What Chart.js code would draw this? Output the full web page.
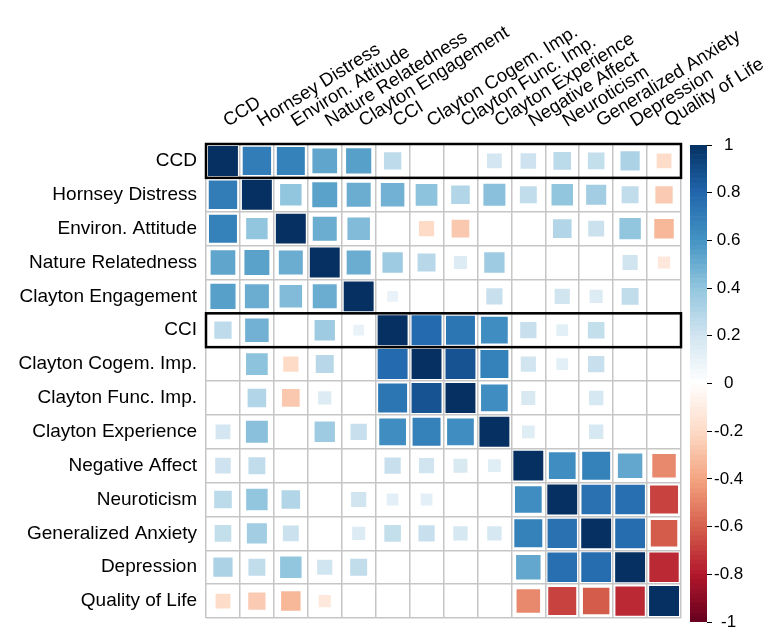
<!DOCTYPE html>
<html>
<head>
<meta charset="utf-8">
<script src="https://cdn.jsdelivr.net/npm/chart.js@4.4.1/dist/chart.umd.min.js"></script>
<style>
  html, body { margin: 0; padding: 0; background: #ffffff; }
  #wrap { position: relative; width: 766px; height: 627px; overflow: hidden; }
  #matrix { position: absolute; left: 0; top: 0; }
  #scale { position: absolute; left: 680px; top: 0; }
</style>
</head>
<body>
<div id="wrap">
  <canvas id="matrix" width="766" height="627"></canvas>
  <canvas id="scale" width="86" height="627"></canvas>
</div>
<script>
// Variables of the correlation matrix (row/column order)
const variables = [
  'CCD', 'Hornsey Distress', 'Environ. Attitude', 'Nature Relatedness',
  'Clayton Engagement', 'CCI', 'Clayton Cogem. Imp.', 'Clayton Func. Imp.',
  'Clayton Experience', 'Negative Affect', 'Neuroticism',
  'Generalized Anxiety', 'Depression', 'Quality of Life'
];

// Correlation rows (null = blank cell)
const ccd        = [1, .70, .68, .53, .55, .26, null, null, .19, .21, .27, .24, .32, -.19];
const hornsey    = [.70, 1, .40, .54, .50, .48, .41, .30, .42, .25, .40, .35, .25, -.26];
const environ    = [.68, .40, 1, .50, .44, null, -.20, -.27, null, null, .30, .22, .40, -.33];
const nature     = [.53, .54, .50, 1, .50, .36, .28, .15, .36, null, null, null, .20, -.13];
const engagement = [.55, .50, .44, .50, 1, .10, null, null, .23, null, .20, .15, .25, null];
const cci        = [.26, .48, null, .36, .10, 1, .78, .73, .62, .23, .12, .24, null, null];
const cogem      = [null, .41, -.20, .28, null, .78, 1, .87, .68, .20, .12, .23, null, null];
const funcImp    = [null, .30, -.27, .15, null, .73, .87, 1, .62, .17, null, .18, null, null];
const experience = [.19, .42, null, .36, .23, .62, .68, .62, 1, .14, null, .18, null, null];
const negAffect  = [.21, .25, null, null, null, .23, .20, .17, .14, 1, .62, .68, .52, -.48];
const neuro      = [.27, .40, .30, null, .20, .12, .12, null, null, .62, 1, .75, .76, -.68];
const anxiety    = [.24, .35, .22, null, .15, .24, .23, .18, .18, .68, .75, 1, .77, -.61];
const depression = [.32, .25, .40, .20, .25, null, null, null, null, .52, .76, .77, 1, -.75];
const qol        = [-.19, -.26, -.33, -.13, null, null, null, null, null, -.48, -.68, -.61, -.75, 1];

const rows = [ccd, hornsey, environ, nature, engagement, cci, cogem, funcImp,
              experience, negAffect, neuro, anxiety, depression, qol];

// Rows outlined with a black frame
const framedRows = ['CCD', 'CCI'];

// Colour bar ticks
const legendTicks = [1, 0.8, 0.6, 0.4, 0.2, 0, -0.2, -0.4, -0.6, -0.8, -1];

// Diverging red-blue palette (-1 .. 1)
const palette = ['#67001F', '#B2182B', '#D6604D', '#F4A582', '#FDDBC7', '#FFFFFF',
                 '#D1E5F0', '#92C5DE', '#4393C3', '#2166AC', '#053061'];

function hexToRgb(h) {
  const n = parseInt(h.slice(1), 16);
  return [(n >> 16) & 255, (n >> 8) & 255, n & 255];
}
function rdbu(v) {
  const t = Math.max(0, Math.min(10, (v + 1) / 2 * 10));
  const i = Math.min(9, Math.floor(t));
  const f = t - i;
  const a = hexToRgb(palette[i]), b = hexToRgb(palette[i + 1]);
  const c = a.map((x, k) => Math.round(x + (b[k] - x) * f));
  return `rgb(${c[0]},${c[1]},${c[2]})`;
}

const FONT = "'Liberation Sans', Arial, sans-serif";

// Scatter points: one per non-blank cell
const points = [];
rows.forEach((row, i) => row.forEach((v, j) => {
  if (v !== null) points.push({ x: variables[j], y: variables[i], v });
}));

// Square side grows with sqrt(|r|), leaving a small margin inside the cell
function squareRadius(ctx) {
  const area = ctx.chart.chartArea;
  if (!area || !ctx.raw) return 0;
  const cell = (area.right - area.left) / variables.length;
  const side = Math.min(cell - 4, Math.sqrt(Math.abs(ctx.raw.v)) * cell);
  return side / Math.SQRT2;
}

const frames = {
  id: 'frames',
  afterDatasetsDraw(chart) {
    const { ctx, chartArea, scales } = chart;
    const y = scales.y;
    const cell = Math.abs(y.getPixelForTick(1) - y.getPixelForTick(0));
    ctx.save();
    ctx.strokeStyle = '#000000';
    ctx.lineWidth = 2.5;
    framedRows.forEach(name => {
      const cy = y.getPixelForTick(variables.indexOf(name));
      ctx.strokeRect(chartArea.left, cy - cell / 2, chartArea.right - chartArea.left, cell);
    });
    ctx.restore();
  }
};

new Chart(document.getElementById('matrix'), {
  type: 'scatter',
  data: {
    datasets: [{
      data: points,
      pointStyle: 'rect',
      pointRadius: squareRadius,
      pointHoverRadius: squareRadius,
      pointBorderWidth: 0,
      pointBackgroundColor: ctx => rdbu(ctx.raw ? ctx.raw.v : 0),
      pointBorderColor: ctx => rdbu(ctx.raw ? ctx.raw.v : 0)
    }]
  },
  options: {
    responsive: false,
    animation: false,
    devicePixelRatio: 1,
    layout: { padding: { left: 0, top: 0, right: 85, bottom: 9 } },
    plugins: { legend: { display: false }, tooltip: { enabled: false } },
    scales: {
      x: {
        type: 'category',
        labels: variables,
        position: 'top',
        offset: true,
        grid: { offset: true, color: '#c6c6c6', lineWidth: 1.5, drawTicks: false },
        border: { display: false },
        ticks: {
          autoSkip: false, minRotation: 32, maxRotation: 32,
          padding: 12, labelOffset: 14,
          color: '#000000', font: { family: FONT, size: 18.5 }
        },
        afterFit(s) { s.height = 144; s.paddingLeft = 0; s.paddingRight = 0; }
      },
      y: {
        type: 'category',
        labels: variables,
        offset: true,
        grid: { offset: true, color: '#c6c6c6', lineWidth: 1.5, drawTicks: false },
        border: { display: false },
        ticks: {
          autoSkip: false, padding: 9,
          color: '#000000', font: { family: FONT, size: 19 }
        },
        afterFit(s) { s.width = 206; s.paddingTop = 0; s.paddingBottom = 0; }
      }
    }
  },
  plugins: [frames]
});

// Colour bar: thin stacked slices from -1 to 1
const sliceCount = 100;
const slices = [];
for (let k = 0; k < sliceCount; k++) {
  const lo = -1 + 2 * k / sliceCount;
  const hi = -1 + 2 * (k + 1) / sliceCount;
  slices.push({
    data: [[lo, hi]],
    backgroundColor: rdbu((lo + hi) / 2),
    borderWidth: 0,
    grouped: false,
    barPercentage: 1,
    categoryPercentage: 1
  });
}

new Chart(document.getElementById('scale'), {
  type: 'bar',
  data: { labels: [''], datasets: slices },
  options: {
    responsive: false,
    animation: false,
    devicePixelRatio: 1,
    layout: { padding: { left: 10, top: 145, right: 0, bottom: 5 } },
    plugins: { legend: { display: false }, tooltip: { enabled: false } },
    scales: {
      x: { display: false },
      y: {
        position: 'right',
        min: -1, max: 1,
        grid: { drawOnChartArea: false, drawTicks: true, tickLength: 5, color: '#000000', lineWidth: 1 },
        border: { display: false },
        afterBuildTicks(s) { s.ticks = legendTicks.map(v => ({ value: v })); },
        ticks: {
          padding: 2, crossAlign: 'center', color: '#000000',
          font: { family: FONT, size: 17 },
          callback: v => String(Math.round(v * 10) / 10)
        },
        afterFit(s) { s.width = 59; s.paddingTop = 0; s.paddingBottom = 0; }
      }
    }
  }
});
</script>
</body>
</html>
